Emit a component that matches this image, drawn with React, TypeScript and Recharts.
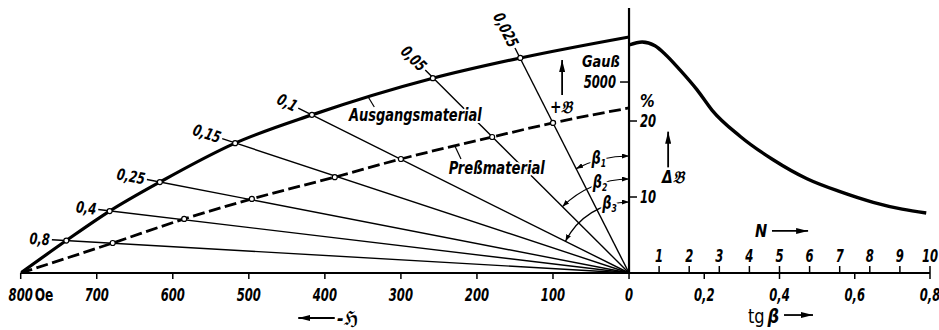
import { ComposedChart, Line, XAxis, YAxis, ReferenceLine, ReferenceDot } from "recharts";

// Ausgangsmaterial: -H in Oe (left of 0), B in Gauss
const AUSGANG_H = [-800, -740, -683, -617, -518, -417, -258, -143, 0];
const AUSGANG_B = [0, 850, 1620, 2380, 3400, 4140, 5100, 5630, 6180];

// Preßmaterial (dashed)
const PRESS_H = [-800, -679, -585, -496, -387, -300, -180, -100, 0];
const PRESS_B = [0, 785, 1415, 1940, 2510, 2985, 3560, 3930, 4320];

// shear lines tg beta, drawn from the origin to their label end
const FAN_LABELS = ["0,025", "0,05", "0,1", "0,15", "0,25", "0,4", "0,8"];
const FAN_END_H = [-150, -268, -435, -535, -634, -698, -759];
const FAN_END_B = [5890, 5315, 4317, 3516, 2448, 1662, 872];

// angle marks beta1..3 on the first three lines
const BETA_SUBS = ["1", "2", "3"];

// right part: delta B in % over tg beta
const DB_TG = [0, 0.035, 0.069, 0.096, 0.136, 0.181, 0.221, 0.295, 0.383, 0.473, 0.561, 0.649, 0.726, 0.79];
const DB_PCT = [30.0, 30.4, 29.9, 28.8, 26.7, 24.1, 21.4, 18.0, 14.9, 12.4, 10.7, 9.3, 8.4, 7.9];

const H_TICKS = [-800, -700, -600, -500, -400, -300, -200, -100, 0];
const TG_TICKS = [0.2, 0.4, 0.6, 0.8];
const N_TICKS = [1, 2, 3, 4, 5, 6, 7, 8, 9, 10];
const B_TICKS = [5000];
const PCT_TICKS = [10, 20];

const AUSGANG = AUSGANG_H.map((h, i) => ({ h, b: AUSGANG_B[i] }));
const PRESS = PRESS_H.map((h, i) => ({ h, b: PRESS_B[i] }));
const DB_CURVE = DB_TG.map((tg, i) => ({ tg, pct: DB_PCT[i] }));

// layout: origin sits at x=629, the H scale is 0.7604 px/Oe, tg scale 376.25 px/unit
const H_DOMAIN = [-800, 395.8];
const TG_DOMAIN = [-1.6168, 0.8];
const N_DOMAIN = [-20.21, 10];
const B_DOMAIN = [0, 6938];
const PCT_DOMAIN = [0, 34.87];

const BETA_R = [117, 94, 71];
const BETA_LABEL_DEG = [15, 18, 16];

const FONT = "'Liberation Sans Narrow', 'DejaVu Sans Condensed', Roboto, sans-serif";
const LETTER = { fontFamily: FONT, fontStyle: "italic", fontWeight: 700, fill: "#000" } as const;
const HALO = { stroke: "#fff", strokeWidth: 4, paintOrder: "stroke", strokeLinejoin: "round" } as const;

// condensed lettering like the drawing's stencil script
const CText = ({ x, y, anchor = "middle", size = 16, sx = 0.8, rotate = 0, extra = {}, children }: any) => (
  <text
    transform={`translate(${x},${y}) rotate(${rotate}) scale(${sx},1)`}
    x={0}
    y={0}
    textAnchor={anchor}
    fontSize={size}
    {...LETTER}
    {...extra}
  >
    {children}
  </text>
);

const HTick = (p: any) => {
  const { x, y, payload } = p;
  const v = payload.value;
  return (
    <g>
      <CText x={x} y={y + 20} size={17} sx={0.76}>
        {String(-v)}
      </CText>
      {v === H_TICKS[0] && (
        <CText x={x + 14} y={y + 20} anchor="start" size={17} sx={0.8} extra={{ fontStyle: "normal" }}>
          Oe
        </CText>
      )}
    </g>
  );
};

const downTick = (label: string) => (p: any) => (
  <g>
    <line x1={p.cx} x2={p.cx} y1={p.cy} y2={p.cy + 6} stroke="#000" strokeWidth={1.5} />
    <CText x={p.cx} y={p.cy + 28} size={17} sx={0.76}>
      {label}
    </CText>
  </g>
);

const upTick = (label: string) => (p: any) => (
  <g>
    <line x1={p.cx} x2={p.cx} y1={p.cy} y2={p.cy - 7} stroke="#000" strokeWidth={1.5} />
    <CText x={p.cx} y={p.cy - 11} size={17} sx={0.76}>
      {label}
    </CText>
  </g>
);

const ringDot = (len: number) => (p: any) => {
  const { cx, cy, index } = p;
  if (index === 0 || index === len - 1) return <g key={`d${index}`} />;
  return <circle key={`d${index}`} cx={cx} cy={cy} r={2.5} fill="#fff" stroke="#000" strokeWidth={1.2} />;
};

const fanShape = (label: string) => (p: any) => {
  const { x1, y1, x2, y2 } = p;
  const dx = x1 - x2;
  const dy = y1 - y2;
  const len = Math.hypot(dx, dy);
  const ang = (Math.atan2(dy, dx) * 180) / Math.PI;
  const tx = x2 - (dx / len) * 2;
  const ty = y2 - (dy / len) * 2;
  return (
    <g>
      <line x1={x1} y1={y1} x2={x2} y2={y2} stroke="#000" strokeWidth={1.4} />
      <CText x={tx} y={ty} anchor="end" size={16} sx={0.8} rotate={ang} extra={{ dominantBaseline: "central" }}>
        {label}
      </CText>
    </g>
  );
};

const betaShape = (sub: string, r: number, deg: number) => (p: any) => {
  const { x1, y1, x2, y2 } = p;
  const dx = x2 - x1;
  const dy = y2 - y1;
  const len = Math.hypot(dx, dy);
  const sx = x1 + (dx / len) * r;
  const sy = y1 + (dy / len) * r;
  const a = (deg * Math.PI) / 180;
  const lx = x1 - r * Math.sin(a);
  const ly = y1 - r * Math.cos(a);
  return (
    <g>
      <path
        d={`M${sx},${sy} A${r},${r} 0 0 1 ${x1},${y1 - r}`}
        fill="none"
        stroke="#000"
        strokeWidth={1.2}
        markerStart="url(#tip)"
        markerEnd="url(#tip)"
      />
      <CText x={lx} y={ly + 4} size={17} sx={0.85} extra={HALO}>
        β
        <tspan fontSize={10} dy={3}>
          {sub}
        </tspan>
      </CText>
    </g>
  );
};

const arrowShape = (p: any) => (
  <line x1={p.x1} y1={p.y1} x2={p.x2} y2={p.y2} stroke="#000" strokeWidth={1.8} markerEnd="url(#arrow)" />
);

const note = (text: any, anchor: "start" | "middle" | "end" = "middle", size = 16, sx = 0.82, extra: any = {}) => (
  p: any
) => (
  <CText x={p.cx} y={p.cy} anchor={anchor} size={size} sx={sx} extra={extra}>
    {text}
  </CText>
);

const leftTick = (label: string) => (p: any) => (
  <g>
    <line x1={p.cx - 9} x2={p.cx} y1={p.cy} y2={p.cy} stroke="#000" strokeWidth={1.5} />
    <CText x={p.cx - 13} y={p.cy + 6} anchor="end" size={17} sx={0.76}>
      {label}
    </CText>
  </g>
);

const rightTick = (label: string) => (p: any) => (
  <g>
    <line x1={p.cx} x2={p.cx + 8} y1={p.cy} y2={p.cy} stroke="#000" strokeWidth={1.5} />
    <CText x={p.cx + 11} y={p.cy + 6} anchor="start" size={17} sx={0.76}>
      {label}
    </CText>
  </g>
);

const segLine = (leader: any) => (
  <line x1={leader.x1} y1={leader.y1} x2={leader.x2} y2={leader.y2} stroke="#000" strokeWidth={1.2} />
);

export default function App() {
  const hb = { xAxisId: "h", yAxisId: "b", ifOverflow: "visible" as const };
  const tp = { xAxisId: "tg", yAxisId: "p", ifOverflow: "visible" as const };
  const np = { xAxisId: "n", yAxisId: "p", ifOverflow: "visible" as const };

  return (
    <div style={{ position: "absolute", left: 0, top: 0, width: 939, height: 330, background: "#fff" }}>
      <svg width={0} height={0} style={{ position: "absolute" }}>
        <defs>
          <marker
            id="arrow"
            viewBox="0 0 12 6"
            refX="12"
            refY="3"
            markerWidth="12"
            markerHeight="6"
            markerUnits="userSpaceOnUse"
            orient="auto-start-reverse"
          >
            <path d="M0,0 L12,3 L0,6 z" fill="#000" />
          </marker>
          <marker
            id="tip"
            viewBox="0 0 7 5"
            refX="7"
            refY="2.5"
            markerWidth="7"
            markerHeight="5"
            markerUnits="userSpaceOnUse"
            orient="auto-start-reverse"
          >
            <path d="M0,0 L7,2.5 L0,5 z" fill="#000" />
          </marker>
        </defs>
      </svg>
      <ComposedChart width={939} height={330} margin={{ top: 8, right: 9, bottom: 56, left: 20.7 }}>
        <XAxis
          xAxisId="h"
          dataKey="h"
          type="number"
          domain={H_DOMAIN}
          allowDataOverflow
          ticks={H_TICKS}
          height={1}
          tickSize={6}
          tickMargin={2}
          axisLine={{ stroke: "#000", strokeWidth: 2.2 }}
          tickLine={{ stroke: "#000", strokeWidth: 1.5 }}
          tick={HTick}
        />
        <XAxis xAxisId="tg" dataKey="tg" type="number" domain={TG_DOMAIN} allowDataOverflow hide />
        <XAxis xAxisId="n" dataKey="n" type="number" domain={N_DOMAIN} allowDataOverflow hide />
        <YAxis yAxisId="b" type="number" domain={B_DOMAIN} allowDataOverflow hide />
        <YAxis yAxisId="p" type="number" domain={PCT_DOMAIN} allowDataOverflow hide />

        <ReferenceLine {...hb} x={0} stroke="#000" strokeWidth={2.2} />

        {FAN_LABELS.map((lab, i) => (
          <ReferenceLine
            key={lab}
            {...hb}
            segment={[
              { x: 0, y: 0 },
              { x: FAN_END_H[i], y: FAN_END_B[i] },
            ]}
            shape={fanShape(lab)}
          />
        ))}

        {BETA_SUBS.map((s, i) => (
          <ReferenceLine
            key={`beta${s}`}
            {...hb}
            segment={[
              { x: 0, y: 0 },
              { x: FAN_END_H[i], y: FAN_END_B[i] },
            ]}
            shape={betaShape(s, BETA_R[i], BETA_LABEL_DEG[i])}
          />
        ))}

        <Line
          xAxisId="h"
          yAxisId="b"
          data={PRESS}
          dataKey="b"
          type="monotone"
          stroke="#000"
          strokeWidth={2.8}
          strokeDasharray="12 4.5"
          dot={ringDot(PRESS.length)}
          activeDot={false}
          isAnimationActive={false}
        />
        <Line
          xAxisId="h"
          yAxisId="b"
          data={AUSGANG}
          dataKey="b"
          type="monotone"
          stroke="#000"
          strokeWidth={3.2}
          dot={ringDot(AUSGANG.length)}
          activeDot={false}
          isAnimationActive={false}
        />
        <Line
          xAxisId="tg"
          yAxisId="p"
          data={DB_CURVE}
          dataKey="pct"
          type="monotone"
          stroke="#000"
          strokeWidth={3.4}
          dot={false}
          activeDot={false}
          isAnimationActive={false}
        />

        {B_TICKS.map((v) => (
          <ReferenceDot key={`bt${v}`} {...hb} x={0} y={v} r={0} shape={leftTick(String(v))} />
        ))}
        {PCT_TICKS.map((v) => (
          <ReferenceDot key={`pt${v}`} {...tp} x={0} y={v} r={0} shape={rightTick(String(v))} />
        ))}
        {TG_TICKS.map((v) => (
          <ReferenceDot
            key={`tg${v}`}
            {...tp}
            x={v}
            y={0}
            r={0}
            shape={downTick(String(v).replace(".", ","))}
          />
        ))}
        {N_TICKS.map((v) => (
          <ReferenceDot key={`n${v}`} {...np} x={v} y={0} r={0} shape={upTick(String(v))} />
        ))}

        {/* curve names and their leaders */}
        <ReferenceLine {...hb} segment={[{ x: -343, y: 4608 }, { x: -335, y: 4346 }]} shape={segLine} />
        <ReferenceLine {...hb} segment={[{ x: -229, y: 3325 }, { x: -221, y: 2985 }]} shape={segLine} />
        <ReferenceDot {...hb} x={-281} y={3980} r={0} shape={note("Ausgangsmaterial", "middle", 17, 0.85, HALO)} />
        <ReferenceDot {...hb} x={-174} y={2592} r={0} shape={note("Preßmaterial", "middle", 17, 0.86, HALO)} />

        {/* B axis labels */}
        <ReferenceDot {...hb} x={-12} y={5393} r={0} shape={note("Gauß", "end", 16, 0.9)} />
        <ReferenceLine {...hb} segment={[{ x: -88, y: 4660 }, { x: -88, y: 5576 }]} shape={arrowShape} />
        <ReferenceDot {...hb} x={-89} y={4189} r={0} shape={note("+𝔅", "middle", 17, 0.9)} />

        {/* delta B labels */}
        <ReferenceDot {...tp} x={0.029} y={21.8} r={0} shape={note("%", "start", 18, 0.9)} />
        <ReferenceLine {...tp} segment={[{ x: 0.104, y: 13.9 }, { x: 0.104, y: 18.6 }]} shape={arrowShape} />
        <ReferenceDot {...tp} x={0.117} y={11.8} r={0} shape={note("Δ𝔅", "middle", 17, 0.9)} />

        {/* N and tg beta axis titles */}
        <ReferenceDot {...np} x={4.39} y={4.74} r={0} shape={note("N", "middle", 18, 0.9)} />
        <ReferenceLine {...np} segment={[{ x: 4.75, y: 5.53 }, { x: 5.95, y: 5.53 }]} shape={arrowShape} />
        <ReferenceDot
          {...tp}
          x={0.316}
          y={-6.6}
          r={0}
          shape={note(
            <>
              <tspan fontStyle="normal" fontWeight={400}>tg</tspan>
              <tspan dx={3}>β</tspan>
            </>,
            "start",
            19,
            0.95
          )}
        />
        <ReferenceLine {...tp} segment={[{ x: 0.412, y: -5.53 }, { x: 0.489, y: -5.53 }]} shape={arrowShape} />

        {/* -H axis title */}
        <ReferenceLine {...hb} segment={[{ x: -387, y: -1178 }, { x: -435, y: -1178 }]} shape={arrowShape} />
        <ReferenceDot {...hb} x={-384} y={-1360} r={0} shape={note("-ℌ", "start", 19, 0.95)} />
      </ComposedChart>
    </div>
  );
}
